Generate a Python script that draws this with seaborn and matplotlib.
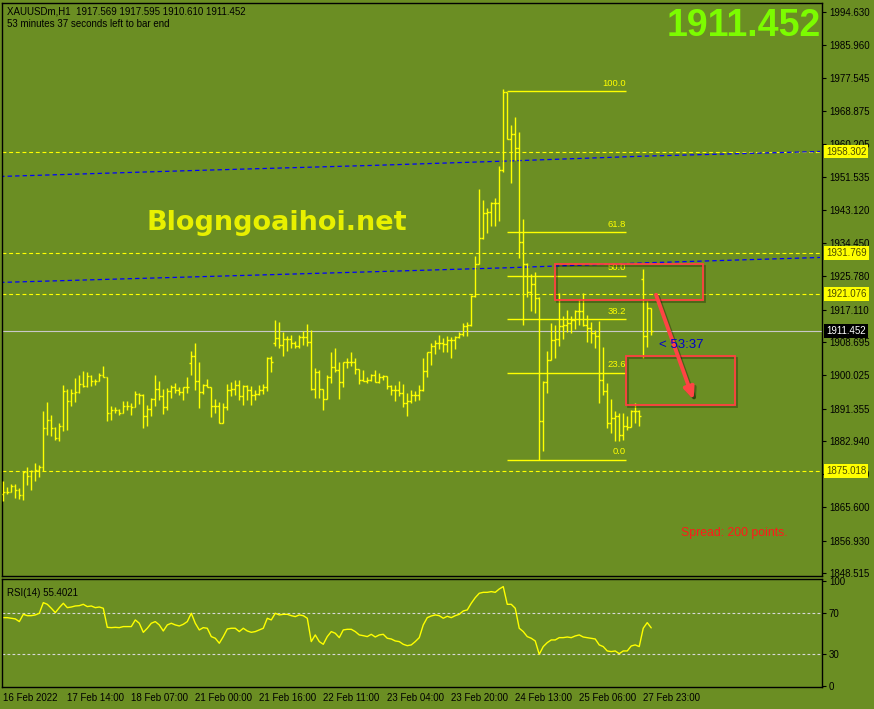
import matplotlib
matplotlib.use("Agg")
import matplotlib.pyplot as plt
import matplotlib.patheffects as pe
from matplotlib.patches import Rectangle
import numpy as np
import pandas as pd
import seaborn as sns

# --- data (XAUUSDm, H1) ---
opens = [1869.0, 1869.6, 1869.7, 1871.2, 1870.2, 1868.9, 1874.8, 1873.8, 1875.1, 1875.3,
         1876.2, 1886.2, 1888.4, 1886.3, 1883.6, 1886.7, 1896.0, 1893.4, 1895.4, 1895.6,
         1897.7, 1897.1, 1899.9, 1898.6, 1898.4, 1900.2, 1899.6, 1890.2, 1891.0, 1891.0,
         1890.3, 1891.9, 1892.1, 1891.8, 1895.1, 1894.9, 1889.5, 1891.2, 1893.9, 1896.4,
         1894.6, 1891.7, 1896.0, 1897.0, 1896.2, 1895.7, 1897.0, 1903.2, 1905.0, 1898.4,
         1895.7, 1897.6, 1897.0, 1892.1, 1891.9, 1887.7, 1891.7, 1896.2, 1896.4, 1897.5,
         1894.5, 1897.3, 1896.1, 1894.9, 1895.1, 1896.2, 1897.0, 1904.5, 1908.5, 1909.6,
         1908.0, 1909.5, 1909.5, 1908.4, 1907.6, 1910.0, 1910.0, 1908.7, 1896.4, 1900.8,
         1896.4, 1893.8, 1899.6, 1902.2, 1901.5, 1898.2, 1903.5, 1903.4, 1903.6, 1901.6,
         1898.9, 1898.4, 1898.7, 1900.2, 1898.2, 1899.7, 1899.9, 1897.1, 1896.2, 1896.1,
         1895.4, 1892.9, 1893.2, 1894.9, 1894.9, 1896.2, 1901.2, 1906.0, 1907.6, 1908.4,
         1908.4, 1908.2, 1909.3, 1909.3, 1910.0, 1910.9, 1912.9, 1913.2, 1920.6, 1929.0,
         1935.8, 1942.3, 1942.5, 1944.9, 1944.9, 1953.5, 1973.7, 1961.5, 1962.8, 1959.3,
         1934.8, 1928.9, 1921.7, 1923.9, 1920.2, 1888.0, 1898.2, 1904.1, 1909.3, 1909.5,
         1912.9, 1913.2, 1913.6, 1914.5, 1916.7, 1916.7, 1913.2, 1912.3, 1911.0, 1910.3,
         1898.9, 1895.8, 1887.5, 1888.8, 1889.3, 1884.5, 1886.7, 1886.5, 1890.6, 1890.8,
         1925.0, 1910.2, 1917.569]
highs = [1872.5, 1870.9, 1871.7, 1871.7, 1870.7, 1875.0, 1876.2, 1875.3, 1877.1, 1876.7,
         1890.8, 1893.1, 1889.7, 1886.5, 1887.6, 1897.6, 1896.5, 1896.4, 1899.4, 1900.2,
         1901.2, 1901.0, 1900.2, 1899.1, 1900.6, 1902.5, 1899.6, 1892.1, 1891.7, 1891.3,
         1893.4, 1893.2, 1892.8, 1896.0, 1895.4, 1895.1, 1892.3, 1894.2, 1900.2, 1898.6,
         1896.5, 1896.7, 1897.6, 1898.0, 1897.0, 1897.0, 1899.6, 1906.4, 1908.3, 1903.4,
         1897.7, 1899.1, 1897.0, 1893.9, 1893.1, 1892.8, 1897.8, 1898.3, 1898.9, 1898.9,
         1897.6, 1897.6, 1897.3, 1896.2, 1897.6, 1897.8, 1904.7, 1905.1, 1914.3, 1914.0,
         1911.2, 1910.2, 1910.4, 1908.9, 1910.4, 1911.5, 1913.5, 1911.9, 1901.9, 1901.3,
         1896.5, 1900.2, 1906.1, 1907.1, 1903.5, 1903.6, 1904.5, 1906.0, 1904.5, 1901.7,
         1901.5, 1899.7, 1900.4, 1901.5, 1900.6, 1900.2, 1899.9, 1897.5, 1897.5, 1898.4,
         1897.8, 1895.4, 1896.1, 1895.8, 1897.5, 1904.5, 1906.0, 1908.4, 1909.1, 1910.6,
         1909.7, 1910.3, 1910.1, 1910.3, 1911.2, 1913.6, 1913.8, 1920.8, 1931.2, 1948.6,
         1945.7, 1943.6, 1945.1, 1946.3, 1954.4, 1974.5, 1973.9, 1965.1, 1967.3, 1963.4,
         1940.8, 1929.2, 1926.3, 1926.9, 1920.5, 1898.4, 1906.3, 1913.6, 1913.2, 1921.5,
         1915.4, 1917.1, 1915.4, 1917.1, 1919.9, 1921.5, 1915.8, 1913.8, 1911.9, 1914.1,
         1907.3, 1898.0, 1893.8, 1890.6, 1890.3, 1890.2, 1889.5, 1891.0, 1892.8, 1891.0,
         1927.6, 1919.3, 1917.595]
lows = [1867.3, 1869.0, 1869.5, 1868.1, 1867.9, 1867.6, 1871.5, 1870.2, 1872.5, 1873.6,
        1875.1, 1884.5, 1884.1, 1883.2, 1882.8, 1885.4, 1885.8, 1891.9, 1893.0, 1895.4,
        1897.0, 1897.0, 1897.3, 1897.4, 1898.4, 1899.6, 1888.0, 1888.4, 1890.2, 1889.6,
        1890.3, 1890.9, 1889.7, 1891.7, 1892.6, 1886.2, 1886.7, 1889.3, 1892.1, 1893.5,
        1890.0, 1891.0, 1894.2, 1895.4, 1894.8, 1893.5, 1895.4, 1900.2, 1896.1, 1891.4,
        1895.1, 1897.0, 1889.1, 1890.3, 1887.7, 1887.6, 1891.0, 1894.5, 1895.0, 1893.6,
        1892.3, 1893.6, 1892.3, 1893.6, 1894.9, 1895.2, 1895.8, 1900.8, 1907.7, 1907.0,
        1905.1, 1906.3, 1907.1, 1907.0, 1907.1, 1908.0, 1907.6, 1896.2, 1894.0, 1894.0,
        1891.0, 1893.8, 1898.0, 1900.9, 1893.8, 1897.0, 1901.9, 1902.5, 1900.4, 1897.7,
        1898.4, 1898.0, 1898.4, 1898.2, 1898.0, 1898.9, 1896.4, 1894.9, 1893.2, 1894.5,
        1891.7, 1889.3, 1892.8, 1893.2, 1893.6, 1895.8, 1899.7, 1902.8, 1905.6, 1906.9,
        1906.2, 1906.0, 1904.5, 1906.9, 1909.7, 1910.2, 1910.2, 1912.8, 1920.4, 1929.0,
        1935.6, 1937.1, 1938.9, 1938.9, 1940.2, 1953.0, 1961.5, 1950.0, 1956.1, 1930.6,
        1913.2, 1920.4, 1916.7, 1916.3, 1878.0, 1880.4, 1895.4, 1903.9, 1904.5, 1907.6,
        1909.5, 1911.2, 1911.0, 1912.1, 1913.2, 1912.8, 1908.8, 1908.4, 1907.1, 1892.8,
        1894.9, 1886.2, 1884.9, 1882.8, 1883.0, 1883.2, 1885.8, 1886.5, 1887.5, 1886.7,
        1904.5, 1907.4, 1910.61]
closes = [1869.6, 1869.7, 1871.2, 1870.2, 1868.9, 1874.8, 1873.8, 1875.1, 1875.3, 1876.2,
          1886.2, 1888.4, 1886.3, 1883.6, 1886.7, 1896.0, 1893.4, 1895.4, 1895.6, 1897.7,
          1897.1, 1899.9, 1898.6, 1898.4, 1900.2, 1899.6, 1890.2, 1891.0, 1891.0, 1890.3,
          1891.9, 1892.1, 1891.8, 1895.1, 1894.9, 1889.5, 1891.2, 1893.9, 1896.4, 1894.6,
          1891.7, 1896.0, 1897.0, 1896.2, 1895.7, 1897.0, 1897.0, 1905.0, 1898.4, 1895.7,
          1897.6, 1897.0, 1892.1, 1891.9, 1887.7, 1891.7, 1896.2, 1896.4, 1897.5, 1894.5,
          1897.3, 1896.1, 1894.9, 1895.1, 1896.2, 1897.0, 1904.5, 1903.5, 1909.6, 1908.0,
          1909.5, 1909.5, 1908.4, 1907.6, 1910.0, 1910.0, 1908.7, 1896.4, 1900.8, 1896.4,
          1893.8, 1899.6, 1902.2, 1901.5, 1898.2, 1903.5, 1903.4, 1903.6, 1901.6, 1898.9,
          1898.4, 1898.7, 1900.2, 1898.2, 1899.7, 1899.9, 1897.1, 1896.2, 1896.1, 1895.4,
          1892.9, 1893.2, 1894.9, 1894.9, 1896.2, 1901.2, 1906.0, 1907.6, 1908.4, 1908.4,
          1908.2, 1909.3, 1909.3, 1910.0, 1910.9, 1912.9, 1913.2, 1920.6, 1929.0, 1935.8,
          1942.3, 1942.5, 1944.9, 1944.9, 1953.5, 1973.7, 1961.5, 1962.8, 1959.3, 1934.8,
          1928.9, 1921.7, 1923.9, 1920.2, 1888.0, 1898.2, 1904.1, 1909.3, 1909.5, 1912.9,
          1913.2, 1913.6, 1914.5, 1916.7, 1916.7, 1913.2, 1912.3, 1911.0, 1910.3, 1898.9,
          1895.8, 1887.5, 1888.8, 1889.3, 1884.5, 1886.7, 1886.5, 1890.6, 1890.8, 1889.3,
          1910.2, 1917.6, 1911.452]
rsi = [65.2, 65.2, 64.6, 64.0, 61.4, 68.4, 67.1, 67.1, 67.8, 69.4,
       79.6, 78.0, 74.2, 70.0, 74.8, 79.0, 74.8, 75.4, 76.4, 76.7,
       78.0, 75.8, 76.4, 74.8, 75.4, 74.2, 55.9, 55.6, 55.9, 55.6,
       56.6, 56.6, 56.6, 63.0, 59.8, 51.1, 55.0, 59.8, 61.4, 58.2,
       52.4, 58.2, 59.8, 58.2, 57.2, 58.8, 61.4, 69.4, 59.8, 53.4,
       55.6, 55.0, 47.0, 45.4, 40.6, 47.0, 54.3, 55.0, 55.0, 51.8,
       55.0, 52.4, 51.1, 51.8, 53.4, 55.0, 64.6, 63.0, 69.4, 67.8,
       68.4, 68.4, 67.1, 66.2, 67.8, 67.1, 64.6, 42.2, 48.6, 42.2,
       39.6, 47.0, 51.8, 50.2, 46.0, 53.4, 54.0, 54.0, 51.8, 48.6,
       47.9, 47.0, 49.2, 46.6, 48.6, 49.2, 45.4, 44.7, 42.8, 42.2,
       39.6, 38.3, 39.0, 42.2, 46.0, 58.2, 65.2, 66.8, 67.8, 67.1,
       64.6, 66.5, 65.2, 67.1, 68.4, 71.6, 72.6, 79.0, 84.4, 88.6,
       89.5, 89.5, 90.2, 89.5, 92.7, 95.0, 78.0, 78.0, 74.2, 55.0,
       51.8, 47.0, 45.4, 42.8, 30.0, 37.4, 41.2, 43.8, 43.8, 46.0,
       46.0, 46.6, 46.0, 47.6, 48.6, 46.6, 46.0, 45.4, 44.7, 39.0,
       37.4, 33.2, 32.6, 33.2, 30.6, 33.2, 33.2, 38.0, 39.0, 37.4,
       55.0, 60.4, 55.4]

date_labels = ['16 Feb 2022', '17 Feb 14:00', '18 Feb 07:00', '21 Feb 00:00',
               '21 Feb 16:00', '22 Feb 11:00', '23 Feb 04:00', '23 Feb 20:00',
               '24 Feb 13:00', '25 Feb 06:00', '27 Feb 23:00']
date_bars = [0, 16, 32, 48, 64, 80, 96, 112, 128, 144, 160]
price_ticks = [1994.630, 1985.960, 1977.545, 1968.875, 1960.205, 1951.535, 1943.120,
               1934.450, 1925.780, 1917.110, 1908.695, 1900.025, 1891.355, 1882.940,
               1874.270, 1865.600, 1856.930, 1848.515]
level_lines = [1958.302, 1931.769, 1921.076, 1875.018]
bid = 1911.452
fib_pcts = [0.0, 23.6, 38.2, 50.0, 61.8, 100.0]
fib_low, fib_high = 1878.0, 1974.0
fib_x0, fib_x1 = 126, 155.6
ma_bars = [-0.8, 45.9, 92.9, 125.4, 160.4, 204.2]
ma_upper = [1951.8, 1953.3, 1954.7, 1955.8, 1957.1, 1958.3]
ma_lower = [1924.2, 1925.6, 1927.0, 1928.0, 1929.3, 1930.7]
zones = [(137.9, 174.9, 1919.7, 1929.0), (155.7, 182.9, 1892.3, 1905.0)]
arrow_start = (163.2, 1921.0)
arrow_end = (172.6, 1893.6)

BG = '#6b8e23'
YEL = '#ffff00'
W, H = 874, 709

sns.set_style('white')
plt.rcParams['font.family'] = ['Liberation Sans', 'DejaVu Sans']

fig = plt.figure(figsize=(W / 100, H / 100), dpi=100, facecolor=BG)
ax = fig.add_axes([2 / W, (H - 576) / H, 820 / W, 573 / H])
rx = fig.add_axes([2 / W, (H - 687) / H, 820 / W, 108 / H])

bars = pd.DataFrame({'bar': np.arange(len(closes)), 'open': opens, 'high': highs,
                     'low': lows, 'close': closes, 'rsi': rsi})
xlim = (-0.33, 204.7)

# ---- price panel ----
ax.set_facecolor(BG)
for y in level_lines:
    ax.axhline(y, color=YEL, lw=0.8, dashes=(3.5, 2.5), zorder=1)
ax.axhline(bid, color='#c8c8c8', lw=0.8, zorder=1)
ma = pd.DataFrame({'bar': ma_bars, 'up': ma_upper, 'lo': ma_lower})
for col in ['up', 'lo']:
    sns.lineplot(data=ma, x='bar', y=col, ax=ax, color='#0000ff', lw=0.9,
                 dashes=False, zorder=2).lines[-1].set_dashes((3.5, 2.5))

ax.vlines(bars['bar'], bars['low'], bars['high'], color=YEL, lw=1.0, zorder=3)
ax.hlines(bars['open'], bars['bar'] - 0.45, bars['bar'], color=YEL, lw=1.0, zorder=3)
ax.hlines(bars['close'], bars['bar'], bars['bar'] + 0.45, color=YEL, lw=1.0, zorder=3)

for pct in fib_pcts:
    lvl = fib_low + (fib_high - fib_low) * pct / 100
    ax.hlines(lvl, fib_x0, fib_x1, color=YEL, lw=1.0, zorder=3)
    ax.text(fib_x1, lvl + 0.9, f'{pct:.1f}', color=YEL, fontsize=6.8,
            ha='right', va='bottom', zorder=4)

shadow = [pe.SimpleLineShadow(offset=(1.5, -1.5), shadow_color='k', alpha=0.3), pe.Normal()]
for x0, x1, y0, y1 in zones:
    r = Rectangle((x0, y0), x1 - x0, y1 - y0, fill=False, ec='#ff4040', lw=1.3, zorder=5)
    r.set_path_effects(shadow)
    ax.add_patch(r)
ax.annotate('', xy=arrow_end, xytext=arrow_start, zorder=6,
            arrowprops=dict(arrowstyle='-|>,head_length=0.7,head_width=0.3',
                            color='#ff4444', lw=2.8, shrinkA=0, shrinkB=0,
                            path_effects=shadow))

ax.text(164.0, 1908.0, '< 53:37', color='#0000cc', fontsize=9.5, va='center', ha='left', zorder=6)
ax.text(169.5, 1859.0, 'Spread: 200 points.', color='#ff1a1a', fontsize=8.8, va='center',
        ha='left', zorder=6)
ax.text(68.5, 1939.8, 'Blogngoaihoi.net', color='#e8f000', fontsize=19.5, fontweight='bold',
        family='DejaVu Sans', ha='center', va='center', zorder=6)

ax.set_xlim(*xlim)
ax.set_ylim(1847.74, 1996.98)
ax.yaxis.tick_right()
ax.set_yticks(price_ticks)
ax.set_yticklabels([f'{t:.3f}' for t in price_ticks])
ax.tick_params(axis='y', direction='out', length=3, width=0.8, colors='black',
               labelsize=7, pad=2)
ax.set_xticks([])
ax.set_xlabel('')
ax.set_ylabel('')
for s in ax.spines.values():
    s.set_color('black')
    s.set_linewidth(1.0)

tr = ax.get_yaxis_transform()
for y in level_lines:
    ax.text(1.005, y, f'{y:.3f}', transform=tr, fontsize=7, color='#4d4d00',
            va='center', ha='left', zorder=7,
            bbox=dict(boxstyle='square,pad=0.2', fc=YEL, ec='none'))
ax.text(1.005, bid, f'{bid:.3f}', transform=tr, fontsize=7, color='white',
        va='center', ha='left', zorder=8,
        bbox=dict(boxstyle='square,pad=0.2', fc='black', ec='none'))

# ---- RSI panel ----
rx.set_facecolor(BG)
for lv in [70, 30]:
    rx.axhline(lv, color='#d8d8d8', lw=0.8, dashes=(2.5, 2.0))
sns.lineplot(data=bars, x='bar', y='rsi', ax=rx, color=YEL, lw=1.0)
rx.set_xlim(*xlim)
rx.set_ylim(-1.4, 102.3)
rx.yaxis.tick_right()
rx.set_yticks([100, 70, 30, 0])
rx.set_yticklabels(['100', '70', '30', '0'])
rx.tick_params(axis='y', direction='out', length=3, width=0.8, colors='black',
               labelsize=7, pad=2)
rx.set_xticks(date_bars)
rx.set_xticklabels(date_labels, ha='left')
rx.tick_params(axis='x', direction='out', length=4, width=0.8, colors='black',
               labelsize=7, pad=0)
rx.set_xlabel('')
rx.set_ylabel('')
for s in rx.spines.values():
    s.set_color('black')
    s.set_linewidth(1.0)
rx.text(0.006, 0.87, f'RSI(14) {55.4021:.4f}', transform=rx.transAxes, fontsize=7,
        color='black', va='center', ha='left')

# ---- header texts ----
fig.text(7 / W, 1 - 11 / H, 'XAUUSDm,H1  1917.569 1917.595 1910.610 1911.452',
         fontsize=7, color='black', va='center', ha='left')
fig.text(7 / W, 1 - 24 / H, '53 minutes 37 seconds left to bar end',
         fontsize=7, color='black', va='center', ha='left')
fig.text(821 / W, 1 - 26 / H, f'{bid:.3f}', fontsize=27, fontweight='bold',
         color='#7cfc00', va='center', ha='right')

fig.savefig('out.png', dpi=100, facecolor=BG)
